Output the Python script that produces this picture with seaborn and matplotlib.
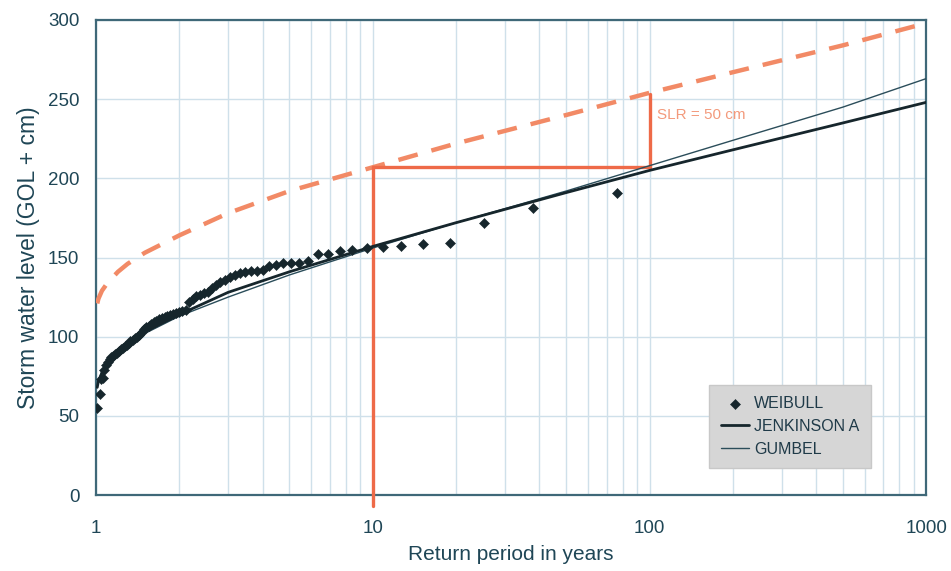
import numpy as np
import pandas as pd
import seaborn as sns
import matplotlib.pyplot as plt
from matplotlib.ticker import FixedLocator, FixedFormatter, LogLocator, NullFormatter

# Weibull plotting positions (return period in years) and observed storm water levels
weibull_T = [76.0, 38.0, 25.33, 19.0, 15.2, 12.67, 10.86, 9.5, 8.44, 7.6,
             6.91, 6.33, 5.85, 5.43, 5.07, 4.75, 4.47, 4.22, 4.0, 3.8,
             3.62, 3.45, 3.3, 3.17, 3.04, 2.92, 2.81, 2.71, 2.62, 2.53,
             2.45, 2.38, 2.3, 2.24, 2.17, 2.11, 2.05, 2.0, 1.95, 1.9,
             1.85, 1.81, 1.77, 1.73, 1.69, 1.65, 1.62, 1.58, 1.55, 1.52,
             1.49, 1.46, 1.43, 1.41, 1.38, 1.36, 1.33, 1.31, 1.29, 1.27,
             1.25, 1.23, 1.21, 1.19, 1.17, 1.15, 1.13, 1.12, 1.1, 1.09,
             1.07, 1.06, 1.04, 1.03, 1.01]
weibull_level = [191, 181, 172, 159, 158.5, 157, 156.5, 156, 155, 154,
                 152, 152, 148, 146.5, 146.5, 146.5, 145, 144.5, 142, 141.5,
                 141.5, 141, 140.5, 139, 137.5, 136, 134.5, 132.5, 130.5, 128.5,
                 127.5, 126.5, 125.5, 123.5, 122, 117, 116, 115.5, 115, 114.5,
                 114, 113, 112.5, 112, 111, 110, 109, 108, 107, 106,
                 105, 103, 101, 100, 99, 98, 97, 96, 95, 94,
                 93, 92, 91, 90, 89, 88, 87, 86, 84, 82,
                 79, 74, 73, 64, 55]

# fitted distributions
curve_T = [1.01, 1.02, 1.05, 1.1, 1.2, 1.3, 1.5, 2, 3, 5, 10, 20, 50, 100, 200, 500, 1000]
jenkinson = [68, 72, 77, 83, 90, 95, 103, 114, 128, 141, 157, 172, 191, 205, 218, 235, 248]
gumbel = [69, 72.5, 78.5, 84, 90.5, 95.5, 102, 113, 125, 139, 156, 172, 192, 208, 224, 245, 263]
jenkinson_slr = [121, 124, 129, 134, 141, 146, 153, 164, 178, 192, 207, 222, 240, 254, 267, 284, 298]

orange = "#ee6a48"
grid_col = "#cfe0ea"
dark = "#16262c"
text_col = "#1f4656"

sns.set_style("white")
plt.rcParams['font.family'] = ['Liberation Sans', 'DejaVu Sans']

fig = plt.figure(figsize=(9.51, 5.71), dpi=100)
ax = fig.add_axes([0.101, 0.133, 0.873, 0.832])

pts = pd.DataFrame({"T": weibull_T, "level": weibull_level})
fits = pd.DataFrame({"T": curve_T, "jenk": jenkinson, "gumb": gumbel, "slr": jenkinson_slr})

# SLR dashed curve
sns.lineplot(data=fits, x="T", y="slr", ax=ax, color="#f28a66", lw=3.2,
             dashes=False, linestyle=(0, (4.5, 3.2)), zorder=3)

# reading lines (10 yr -> 100 yr, + 50 cm)
ax.plot([10, 10], [207, -7], color=orange, lw=2.4, clip_on=False, zorder=4,
        solid_capstyle="round")
ax.plot([10, 100], [207, 207], color=orange, lw=2.4, zorder=4)
ax.plot([100, 100], [207, 253], color=orange, lw=2.4, zorder=4)
ax.text(106, 240, "SLR = 50 cm", color="#f39a7c", fontsize=11, va="center")

sns.lineplot(data=fits, x="T", y="gumb", ax=ax, color="#2b4d5a", lw=1.0,
             label="GUMBEL", zorder=5)
sns.lineplot(data=fits, x="T", y="jenk", ax=ax, color=dark, lw=2.0,
             label="JENKINSON A", zorder=6)
sns.scatterplot(data=pts, x="T", y="level", ax=ax, marker="D", s=26,
                color=dark, edgecolor=dark, label="WEIBULL", zorder=7)

ax.set_xscale("log")
ax.set_xlim(1, 1000)
ax.set_ylim(0, 300)
ax.set_yticks(range(0, 301, 50))
ax.xaxis.set_major_locator(FixedLocator([1, 10, 100, 1000]))
ax.xaxis.set_major_formatter(FixedFormatter(["1", "10", "100", "1000"]))
ax.xaxis.set_minor_locator(LogLocator(base=10, subs=np.arange(2, 10)))
ax.xaxis.set_minor_formatter(NullFormatter())

ax.grid(True, which="both", axis="x", color=grid_col, lw=1.0, zorder=0)
ax.grid(True, which="major", axis="y", color=grid_col, lw=1.0, zorder=0)
ax.set_axisbelow(True)

for s in ax.spines.values():
    s.set_color("#3f6878")
    s.set_linewidth(1.6)

ax.tick_params(axis="both", which="both", length=0, labelsize=13.5,
               labelcolor=text_col)
ax.tick_params(axis="x", pad=18)
ax.tick_params(axis="y", pad=12)

ax.set_xlabel("Return period in years", fontsize=15, color=text_col, labelpad=6)
ax.set_ylabel("Storm water level (GOL + cm)", fontsize=16.5, color=text_col,
              labelpad=6)

h, l = ax.get_legend_handles_labels()
order = [l.index("WEIBULL"), l.index("JENKINSON A"), l.index("GUMBEL")]
leg = ax.legend([h[i] for i in order], [l[i] for i in order],
                loc="lower right", bbox_to_anchor=(0.933, 0.057),
                fontsize=11.5, frameon=True, fancybox=False,
                facecolor="#d6d6d6", edgecolor="#c8c8c8", framealpha=1,
                handlelength=1.8, handletextpad=0.3, borderpad=0.7,
                labelspacing=0.5, borderaxespad=0)
for t in leg.get_texts():
    t.set_color("#1f3a48")

fig.savefig("out.png", dpi=100)
